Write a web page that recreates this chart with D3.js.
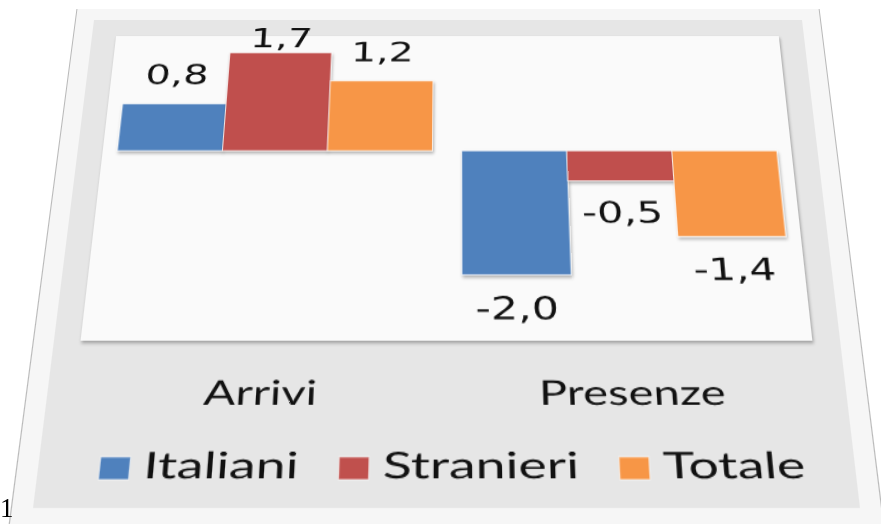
<!DOCTYPE html>
<html><head>
<meta charset="UTF-8">
<title>Arrivi e presenze - variazioni</title>
<style>
  body { margin: 0; background: #fff; width: 881px; height: 524px; overflow: hidden; position: relative; }
  #chart { position: absolute; left: 0; top: 0; transform-origin: 0 0; }
  #page { position: absolute; left: 0; top: 0; }
</style>
</head>
<body>
<svg id="chart"></svg>
<svg id="page" width="881" height="524"></svg>
<script src="https://cdn.jsdelivr.net/npm/d3@7"></script>
<script>
  // data
  const categories = ["Arrivi", "Presenze"];
  const seriesNames = ["Italiani", "Stranieri", "Totale"];
  const italiani = [0.8, -2.0];
  const stranieri = [1.7, -0.5];
  const totale = [1.2, -1.4];
  const seriesColors = ["#4F81BD", "#C0504D", "#F79646"];

  const seriesValues = [italiani, stranieri, totale];
  const series = seriesNames.map((name, i) => ({ name, values: seriesValues[i], color: seriesColors[i] }));

  // flat chart size (grey panel), later bent into the tilted sheet
  const W = 708, H = 418, OX = 40, OY = 24;
  const svgW = W + 2 * OX, svgH = H + OY + 40;
  const sxNum = 1.5;   // horizontal stretch of the labels
  const sxCal = 1.55;
  const sxLeg = 1.69;

  const fmt = d3.formatLocale({ decimal: ",", thousands: ".", grouping: [3], currency: ["", "€"], minus: "-" }).format(".1f");

  const svg = d3.select("#chart").attr("width", svgW).attr("height", svgH);

  // perspective: map the flat panel corners onto the photographed quad
  function homography(src, dst) {
    const A = [], B = [];
    for (let i = 0; i < 4; i++) {
      const [x, y] = src[i], [u, v] = dst[i];
      A.push([x, y, 1, 0, 0, 0, -u * x, -u * y]); B.push(u);
      A.push([0, 0, 0, x, y, 1, -v * x, -v * y]); B.push(v);
    }
    const n = 8;
    for (let c = 0; c < n; c++) {
      let p = c;
      for (let r = c + 1; r < n; r++) if (Math.abs(A[r][c]) > Math.abs(A[p][c])) p = r;
      [A[c], A[p]] = [A[p], A[c]]; [B[c], B[p]] = [B[p], B[c]];
      for (let r = 0; r < n; r++) {
        if (r === c) continue;
        const f = A[r][c] / A[c][c];
        for (let k = c; k < n; k++) A[r][k] -= f * A[c][k];
        B[r] -= f * B[c];
      }
    }
    return B.map((b, i) => b / A[i][i]);
  }
  const h = homography(
    [[OX, OY], [OX + W, OY], [OX + W, OY + H], [OX, OY + H]],
    [[94, 20], [802, 20], [860, 508], [33, 508]]
  );
  d3.select("#chart").style("transform",
    `matrix3d(${h[0]},${h[3]},0,${h[6]},${h[1]},${h[4]},0,${h[7]},0,0,1,0,${h[2]},${h[5]},0,1)`);

  const defs = svg.append("defs");
  const sh = defs.append("filter").attr("id", "shadow")
    .attr("x", "-10%").attr("y", "-10%").attr("width", "130%").attr("height", "130%");
  sh.append("feDropShadow").attr("dx", 1).attr("dy", 2).attr("stdDeviation", 1.5)
    .attr("flood-color", "#000").attr("flood-opacity", 0.3);

  const g = svg.append("g").attr("transform", `translate(${OX},${OY})`);

  // sheet behind the chart
  g.append("rect").attr("x", -18.5).attr("y", -11).attr("width", W + 37).attr("height", H + 40)
    .attr("fill", "#f6f6f6");
  g.append("line").attr("x1", -18.5).attr("x2", -18.5).attr("y1", -11).attr("y2", H + 29)
    .attr("stroke", "#b8b8b8").attr("stroke-width", 1);
  g.append("line").attr("x1", W + 18.5).attr("x2", W + 18.5).attr("y1", -11).attr("y2", H + 29)
    .attr("stroke", "#b8b8b8").attr("stroke-width", 1);

  // grey chart area
  g.append("rect").attr("width", W).attr("height", H).attr("fill", "#e6e6e6");

  const plot = { left: 24, right: 683, top: 16, bottom: 289 };
  g.append("rect")
    .attr("x", plot.left).attr("y", plot.top)
    .attr("width", plot.right - plot.left).attr("height", plot.bottom - plot.top)
    .attr("fill", "#fafafa").attr("filter", "url(#shadow)");

  const x0 = d3.scaleBand().domain(categories).range([plot.left, plot.right])
    .paddingInner(0.085).paddingOuter(0.0425);
  const x1 = d3.scaleBand().domain(seriesNames).range([0, x0.bandwidth()]);
  const y = d3.scaleLinear().domain([-3, 2]).range([plot.bottom, plot.top]);

  // bars
  const groups = g.selectAll(".grp").data(categories).enter().append("g")
    .attr("class", "grp").attr("transform", d => `translate(${x0(d)},0)`);

  groups.selectAll("rect")
    .data((c, ci) => series.map(s => ({ s, v: s.values[ci] })))
    .enter().append("rect")
    .attr("x", d => x1(d.s.name))
    .attr("y", d => y(Math.max(0, d.v)))
    .attr("width", x1.bandwidth())
    .attr("height", d => Math.abs(y(d.v) - y(0)))
    .attr("fill", d => d.s.color)
    .attr("stroke", "#ffffff").attr("stroke-opacity", 0.7).attr("stroke-width", 1)
    .attr("filter", "url(#shadow)");

  // zero line
  g.append("line")
    .attr("x1", plot.left).attr("x2", plot.right)
    .attr("y1", y(0)).attr("y2", y(0))
    .attr("stroke", "#8c8c8c").attr("stroke-width", 1.6)
    .attr("filter", "url(#shadow)");

  // value labels
  groups.selectAll(".lbl")
    .data((c, ci) => series.map(s => ({ s, v: s.values[ci] })))
    .enter().append("text")
    .attr("class", "lbl")
    .attr("transform", d => {
      const cx = x1(d.s.name) + x1.bandwidth() / 2;
      const by = d.v >= 0 ? Math.max(y(d.v) - 19, plot.top + 11) : y(d.v) + 37;
      return `translate(${cx},${by}) scale(${sxNum},1)`;
    })
    .attr("text-anchor", "middle")
    .attr("font-family", "'DejaVu Sans', Verdana, sans-serif")
    .attr("font-size", 26)
    .attr("fill", "#111")
    .text(d => fmt(d.v));

  // category labels
  g.selectAll(".cat").data(categories).enter().append("text")
    .attr("class", "cat")
    .attr("transform", d => `translate(${x0(d) + x0.bandwidth() / 2},340) scale(${sxCal},1)`)
    .attr("text-anchor", "middle")
    .attr("font-family", "Lato, 'Open Sans', sans-serif")
    .attr("font-size", 27)
    .attr("fill", "#111")
    .text(d => d);

  // legend
  const legend = g.append("g");
  const items = legend.selectAll(".item").data(series).enter().append("g").attr("class", "item");
  items.append("rect").attr("y", 380).attr("width", 26).attr("height", 17)
    .attr("fill", d => d.color).attr("stroke", "#ffffff").attr("stroke-opacity", 0.6);
  items.append("text")
    .attr("font-family", "Lato, 'Open Sans', sans-serif")
    .attr("font-size", 27.5)
    .attr("fill", "#111")
    .text(d => d.name);
  let widths = [];
  items.each(function () {
    widths.push(26 + 12 + d3.select(this).select("text").node().getComputedTextLength() * sxLeg);
  });
  const gap = 35;
  const total = d3.sum(widths) + gap * (widths.length - 1);
  let pos = 359 - total / 2;
  items.each(function (d, i) {
    const it = d3.select(this);
    it.attr("transform", `translate(${pos},0)`);
    it.select("text").attr("transform", `translate(38,396) scale(${sxLeg},1)`);
    pos += widths[i] + gap;
  });

  // stray page number at the left edge of the photo
  d3.select("#page").append("text")
    .attr("x", 0).attr("y", 517)
    .attr("font-family", "'Liberation Serif', serif")
    .attr("font-size", 27)
    .attr("fill", "#000")
    .text("1");
</script>
</body></html>
